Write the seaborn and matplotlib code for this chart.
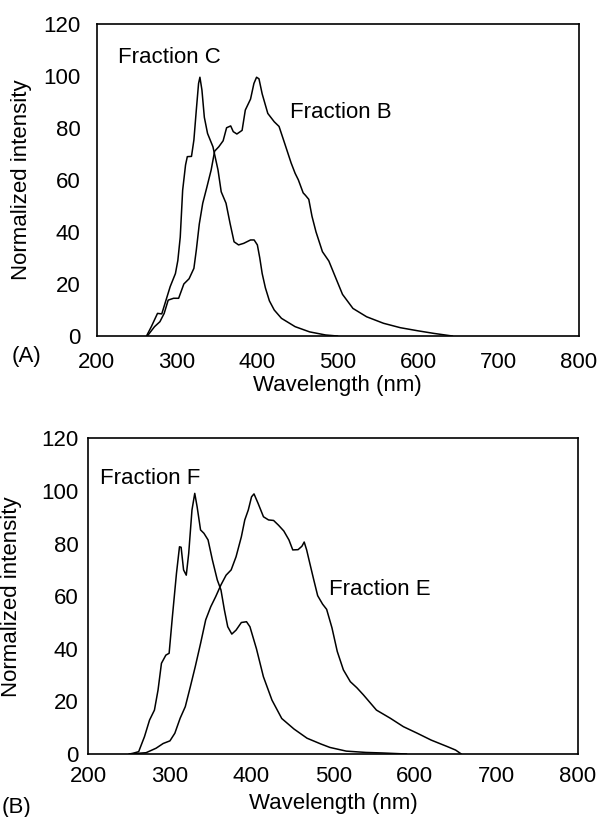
import matplotlib
matplotlib.use("Agg")
import matplotlib.pyplot as plt
import seaborn as sns
import pandas as pd

# ---- data ----
# panel A
wl_c = [262, 268, 275.7, 281, 285, 291.5, 298, 301, 304, 307, 310.6, 312.8, 318, 321,
        324, 326.8, 328.5, 331, 334, 338, 344.7, 351, 355, 361, 366, 371, 376.6, 383,
        391.5, 396, 400, 403, 406, 410, 415, 421, 430, 447, 465, 485, 500]
int_c = [0, 3.6, 8.7, 8.5, 12.5, 19, 24, 29, 38, 56, 65.7, 68.9, 69, 75.3,
         86.8, 97, 99.4, 94.5, 84, 77.8, 72.7, 63.8, 55.4, 51, 43.3, 36.2, 35, 35.6,
         36.9, 36.9, 35, 30, 24, 18.5, 13.5, 10, 6.8, 3.6, 1.6, 0.4, 0]

wl_b = [263, 272, 278.7, 284, 289, 295.7, 302, 308.5, 315, 321, 324, 327.7, 332, 337,
        342.5, 346.8, 352, 357.4, 361.7, 366.8, 370, 374.5, 381, 385, 391.5, 395.7, 399,
        402, 406, 413, 421, 427, 434, 442, 447, 451, 457, 460, 464, 468, 473, 481, 489,
        498, 506, 519, 536, 557, 578, 600, 620, 643]
int_b = [0, 3.6, 5.5, 8.7, 13.8, 14.5, 14.5, 20, 22, 26, 33, 43, 51, 57,
         63.8, 71, 72.7, 75, 80, 80.7, 78.5, 77.6, 79, 86.8, 91, 97, 99.4,
         98.8, 93, 85.5, 82.3, 80.5, 74, 66.5, 62.5, 60, 55, 54, 52.5, 46, 40, 32.4, 28.8,
         22, 16, 10.6, 7.4, 4.9, 3.2, 2.0, 1.0, 0]

# panel B
wl_f = [250, 255, 261.7, 268.8, 275, 281, 285.4, 289.6, 295, 299, 303, 308, 311.7, 313.7,
        316.7, 320, 323, 327, 330.4, 333.3, 337.5, 341.7, 346.7, 352, 358, 362.5, 366.7,
        370.8, 375.8, 381, 387.5, 393.8, 398, 406, 414.5, 425, 437, 452, 468, 485, 496,
        516, 540, 560, 575, 590]
int_f = [0, 0.3, 0.9, 6.6, 12.9, 16.7, 24.3, 34.5, 37.6, 38.3, 52.2, 68.7, 78.8, 78.6,
         70, 68, 76.3, 92.8, 99.1, 94, 85.2, 83.9, 81.4, 73.8, 66.2, 62.4, 54.8,
         48.4, 45.6, 47.1, 50, 50.3, 48.4, 40, 29.4, 20.5, 13.5, 9.5, 6, 3.8, 2.5,
         1.1, 0.6, 0.4, 0.2, 0]

wl_e = [250, 270.8, 283, 291.7, 300, 306, 312.5, 318.8, 325, 331, 337.5, 343.8, 350, 356,
        362.5, 368.8, 375, 381, 387.5, 391.7, 396, 400, 403, 408, 414.6, 420.8, 427, 433,
        439.5, 445.8, 450.5, 457, 461.7, 464.5, 467.5, 471, 476, 481, 487, 492, 498.5,
        505, 512.5, 521, 529, 537, 553, 570, 586, 603, 620, 640, 650, 657]
int_e = [0, 0.5, 2.2, 4, 5, 7.9, 13.6, 18, 25.6, 33.2, 42, 51, 56, 59.8,
         64.3, 68, 70, 75, 82.6, 89, 92.8, 97.8, 98.9, 95.3, 90.2, 89, 88.8, 87,
         84.8, 81.4, 77.6, 77.7, 79, 80.6, 77.6, 73, 66.5, 60.2, 57, 55, 48,
         39, 32, 27.5, 25.2, 22.5, 16.7, 13.6, 10.4, 7.9, 5.3, 2.8, 1.5, 0]

x_ticks = [200, 300, 400, 500, 600, 700, 800]
y_ticks = [0, 20, 40, 60, 80, 100, 120]

sns.set_theme(style="white")
plt.rcParams["font.family"] = ["Liberation Sans", "DejaVu Sans"]
plt.rcParams["text.color"] = "black"
plt.rcParams["axes.labelcolor"] = "black"
plt.rcParams["xtick.color"] = "black"
plt.rcParams["ytick.color"] = "black"

FS = 16

fig = plt.figure(figsize=(5.98, 8.17), dpi=100)
ax_a = fig.add_axes([0.1617, 0.5887, 0.806, 0.3824])
ax_b = fig.add_axes([0.1477, 0.0771, 0.8189, 0.3863])


def draw_panel(ax, curves, labels, xpad, ypad, xlab_y, ylab_x):
    for wl, val in curves:
        df = pd.DataFrame({"wl": wl, "val": val})
        sns.lineplot(data=df, x="wl", y="val", ax=ax, color="black",
                     lw=1.1, estimator=None, sort=False)
    for x, y, s in labels:
        ax.text(x, y, s, ha="left", va="center", fontsize=FS)

    ax.set_xlim(200, 800)
    ax.set_ylim(0, 120)
    ax.set_xticks(x_ticks)
    ax.set_yticks(y_ticks)
    ax.tick_params(axis="x", direction="inout", length=8, width=1.1,
                   pad=xpad, labelsize=FS)
    ax.tick_params(axis="y", direction="inout", length=8, width=1.1,
                   pad=ypad, labelsize=FS)
    for sp in ax.spines.values():
        sp.set_color("black")
        sp.set_linewidth(1.2)

    ax.set_xlabel("Wavelength (nm)", fontsize=FS)
    ax.set_ylabel("Normalized intensity", fontsize=FS)
    ax.xaxis.label.set_va("center")
    ax.yaxis.label.set_va("center")
    ax.xaxis.set_label_coords(0.5, xlab_y)
    ax.yaxis.set_label_coords(ylab_x, 0.5)


draw_panel(ax_a, [(wl_c, int_c), (wl_b, int_b)],
           [(226.5, 107, "Fraction C"), (441, 86, "Fraction B")],
           xpad=7.8, ypad=7.6, xlab_y=-0.158, ylab_x=-0.157)
draw_panel(ax_b, [(wl_f, int_f), (wl_e, int_e)],
           [(214.6, 104.6, "Fraction F"), (494.4, 62.4, "Fraction E")],
           xpad=4.8, ypad=3.0, xlab_y=-0.158, ylab_x=-0.156)

fig.text(26.7 / 598, 1 - 356.7 / 817, "(A)", ha="center", va="center", fontsize=FS)
fig.text(16.7 / 598, 1 - 808 / 817, "(B)", ha="center", va="center", fontsize=FS)

fig.savefig("out.png", dpi=100)
